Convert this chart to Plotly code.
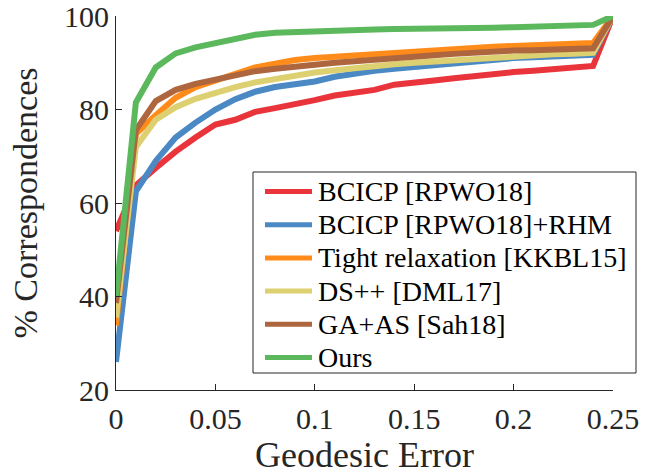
import plotly.graph_objects as go

x_err = [round(i * 0.01, 2) for i in range(26)]

names = [
    "BCICP [RPWO18]",
    "BCICP [RPWO18]+RHM",
    "Tight relaxation [KKBL15]",
    "DS++ [DML17]",
    "GA+AS [Sah18]",
    "Ours",
]
colors = ["#E8343A", "#4A89C4", "#FF8C1A", "#DDD070", "#AE663E", "#5CB85C"]

bcicp = [54, 63.8, 67.5, 71, 74, 76.8, 77.8, 79.5, 80.3, 81, 82, 83, 83.6, 84.2, 85.3,
         85.6, 86.2, 86.7, 87.2, 87.7, 88, 88.3, 88.7, 89, 89.3, 100]
bcicp_rhm = [26, 62.5, 69, 74, 77.2, 80, 82.2, 83.8, 84.8, 85.4, 86, 87, 87.8, 88.3, 88.7,
             89.1, 89.5, 89.9, 90.4, 90.8, 91, 91.2, 91.4, 91.5, 91.7, 100]
tight = [33.8, 74.8, 78.8, 82.5, 84.8, 86.3, 87.8, 89, 89.8, 90.6, 91, 91.3, 91.6, 91.9, 92.2,
         92.4, 92.7, 93, 93.2, 93.4, 93.6, 93.7, 93.9, 94, 94.2, 100]
dspp = [35.5, 72, 77.8, 80.5, 82.3, 83.6, 84.8, 85.8, 86.6, 87.3, 87.9, 88.4, 88.9, 89.3, 89.7,
        90, 90.3, 90.6, 90.9, 91.2, 91.4, 91.6, 91.8, 91.9, 92.1, 100]
gaas = [38.6, 75.6, 81.8, 84.2, 85.5, 86.5, 87.4, 88.2, 88.7, 89.2, 89.6, 90, 90.3, 90.7, 91,
        91.3, 91.6, 91.9, 92.2, 92.4, 92.6, 92.7, 92.9, 93, 93.1, 100]
ours = [40, 81.5, 89, 92, 93.3, 94.3, 95.2, 96, 96.4, 96.6, 96.7, 96.9, 97, 97.1, 97.2,
        97.2, 97.3, 97.3, 97.4, 97.5, 97.6, 97.7, 97.8, 97.9, 98.1, 100]

series = [bcicp, bcicp_rhm, tight, dspp, gaas, ours]

x_ticks = [0, 0.05, 0.1, 0.15, 0.2, 0.25]
x_ticklabels = ["0", "0.05", "0.1", "0.15", "0.2", "0.25"]
y_ticks = [20, 40, 60, 80, 100]
x_title = "Geodesic Error"
y_title = "% Correspondences"

FONT = "Liberation Serif, Times New Roman, serif"
AXC = "#262626"

W, H = 654, 470
L, R, T, B = 116, 41, 16, 80
PW, PH = W - L - R, H - T - B


def px_x(p):
    return (p - L) / PW


def px_y(p):
    return (H - B - p) / PH


fig = go.Figure()
for name, col, ys in zip(names, colors, series):
    fig.add_trace(go.Scatter(x=x_err, y=ys, mode="lines", name=name,
                             line=dict(color=col, width=6), showlegend=False,
                             hoverinfo="skip"))

# legend box drawn in paper coordinates
shapes = [dict(type="rect", xref="paper", yref="paper",
               x0=px_x(253), x1=px_x(636), y0=px_y(373), y1=px_y(172),
               line=dict(color=AXC, width=1), fillcolor="white", layer="above")]
annotations = []
row0, dy = 191.5, 33.2
for i, (name, col) in enumerate(zip(names, colors)):
    yy = px_y(row0 + i * dy)
    shapes.append(dict(type="line", xref="paper", yref="paper",
                       x0=px_x(265), x1=px_x(312), y0=yy, y1=yy,
                       line=dict(color=col, width=5), layer="above"))
    annotations.append(dict(xref="paper", yref="paper", x=px_x(316), y=yy,
                            xanchor="left", yanchor="middle", showarrow=False,
                            text=name, font=dict(family=FONT, size=28, color="black")))

# x-axis title placed below the tick labels
annotations.append(dict(xref="paper", yref="paper", x=0.5, y=px_y(455),
                        xanchor="center", yanchor="middle", showarrow=False,
                        text=x_title, font=dict(family=FONT, size=36, color=AXC)))

fig.update_layout(
    width=W, height=H,
    margin=dict(l=L, r=R, t=T, b=B, autoexpand=False),
    paper_bgcolor="white", plot_bgcolor="white",
    font=dict(family=FONT, color=AXC, size=30),
    showlegend=False,
    shapes=shapes, annotations=annotations,
)
fig.update_xaxes(range=[0, 0.25], tickvals=x_ticks, ticktext=x_ticklabels,
                 automargin=False, ticklabeloverflow="allow", ticklabelstandoff=2,
                 showgrid=False, zeroline=False, showline=True, linecolor=AXC, linewidth=1,
                 ticks="inside", ticklen=6, tickcolor=AXC,
                 tickfont=dict(family=FONT, size=30, color=AXC))
fig.update_yaxes(range=[20, 100], tickvals=y_ticks,
                 automargin=False, ticklabeloverflow="allow",
                 showgrid=False, zeroline=False, showline=True, linecolor=AXC, linewidth=1,
                 ticks="inside", ticklen=6, tickcolor=AXC,
                 tickfont=dict(family=FONT, size=30, color=AXC),
                 title=dict(text=y_title, font=dict(family=FONT, size=34, color=AXC),
                            standoff=16))

fig.write_html("out.html", config={"displayModeBar": False},
               post_script="document.body.style.margin='0';")
